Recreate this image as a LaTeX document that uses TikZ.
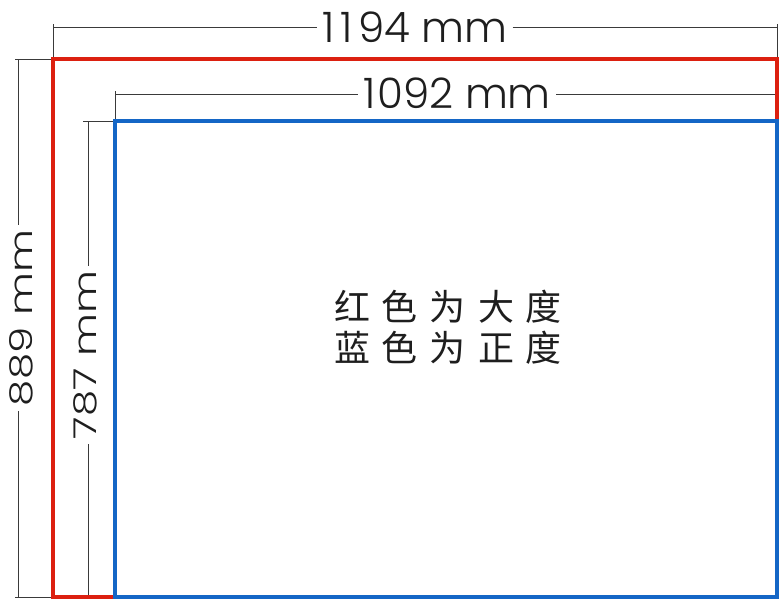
\documentclass[tikz,border=0pt]{standalone}
\usepackage{fontspec}
\setmainfont{Poppins}[UprightFont=* Light, Numbers=Monospaced]
\newfontfamily\cjk{Noto Sans CJK SC}
\definecolor{dimgray}{HTML}{3A3A3A}
\definecolor{framered}{HTML}{DC2010}
\definecolor{frameblue}{HTML}{1466C6}
\definecolor{textgray}{HTML}{1E1E1E}
\begin{document}
\begin{tikzpicture}[x=1pt,y=-1pt,
  dimline/.style={draw=dimgray, line width=1pt},
  redframe/.style={draw=framered, line width=3.6pt},
  blueframe/.style={draw=frameblue, line width=3.6pt},
  hlabel/.style={inner xsep=5pt, inner ysep=0pt, text=textgray, text depth=0pt,
    font=\fontsize{42}{42}\selectfont},
  vlabel/.style={rotate=90, yscale=0.75, inner xsep=5pt, inner ysep=0pt, text=textgray, text depth=0pt,
    font=\fontsize{42}{42}\selectfont},
  cjklabel/.style={anchor=base, inner sep=0pt, text=textgray,
    font=\cjk\fontsize{36}{36}\selectfont}]
\useasboundingbox (0,0) rectangle (783,605);
% corners
\coordinate (rTL) at (53,59);
\coordinate (rTR) at (777,59);
\coordinate (rBR) at (777,597);
\coordinate (rBL) at (53,597);
\coordinate (bTL) at (115,121);
\coordinate (bBL) at (115,597);
\coordinate (bBR) at (777,597);
% top dimension 1194
\coordinate (tA) at (53,27);
\coordinate (tB) at (777,27);
\coordinate (tAt) at (53,24);
\coordinate (tBt) at (777,24);
\node[hlabel] (l1194) at (415,27) {1\kern6pt1\kern5pt94 mm};
\draw[dimline] (tA) -- (tA -| l1194.west);
\draw[dimline] (tA -| l1194.east) -- (tB);
\draw[dimline] (tAt) -- (rTL);
\draw[dimline] (tBt) -- (rTR);
% second dimension 1092
\coordinate (sA) at (115,94);
\coordinate (sB) at (777,94);
\coordinate (sAt) at (115,91);
\node[hlabel] (l1092) at (457,93) {1\kern2pt092 mm};
\draw[dimline] (sA) -- (sA -| l1092.west);
\draw[dimline] (sA -| l1092.east) -- (sB);
\draw[dimline] (sAt) -- (bTL);
% left dimension 889
\coordinate (vA) at (18,59);
\coordinate (vB) at (18,597);
\coordinate (vAt) at (15,59);
\coordinate (vBt) at (15,597);
\node[vlabel] (l889) at (21,318) {889 mm};
\draw[dimline] (vA) -- (vA |- l889.east);
\draw[dimline] (vA |- l889.west) -- (vB);
\draw[dimline] (vAt) -- (rTL);
\draw[dimline] (vBt) -- (rBL);
% left dimension 787
\coordinate (wA) at (88,121);
\coordinate (wB) at (88,597);
\coordinate (wAt) at (83,121);
\node[vlabel] (l787) at (85,355) {787 mm};
\draw[dimline] (wA) -- (wA |- l787.east);
\draw[dimline] (wA |- l787.west) -- (wB);
\draw[dimline] (wAt) -- (bTL);
\draw[dimline] (wB) -- (bBL);
% frames
\draw[redframe] (rTL) rectangle (rBR);
\draw[blueframe] (bTL) rectangle (bBR);
% centre text
\node[cjklabel] (red) at (448,320) {红\hspace{12pt}色\hspace{12pt}为\hspace{12pt}大\hspace{12pt}度};
\node[cjklabel] (blue) at (448,361) {蓝\hspace{12pt}色\hspace{12pt}为\hspace{12pt}正\hspace{12pt}度};
\end{tikzpicture}
\end{document}
